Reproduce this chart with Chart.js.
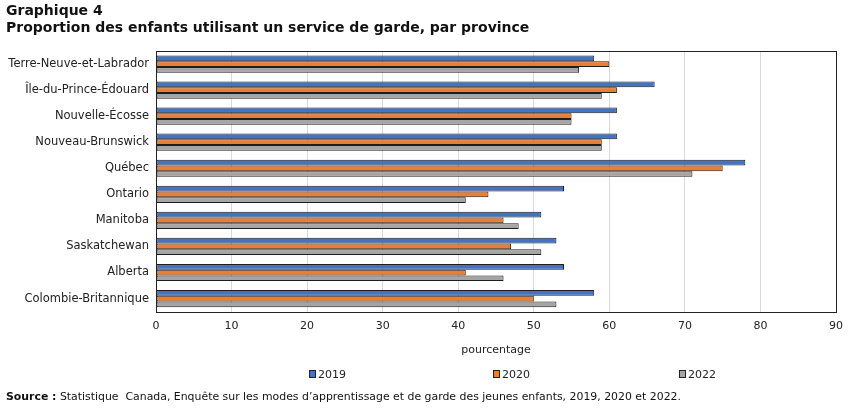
<!DOCTYPE html>
<html><head><meta charset="utf-8">
<script src="https://cdn.jsdelivr.net/npm/chart.js@4.4.1/dist/chart.umd.min.js"></script>
<style>
html,body{margin:0;padding:0;background:#fff;}
#wrap{position:relative;width:851px;height:408px;overflow:hidden;}
#c{position:absolute;left:0;top:0;}
.title{position:absolute;left:6px;font:bold 14px "DejaVu Sans",Verdana,sans-serif;color:#111;white-space:nowrap;}
.leg{position:absolute;top:368px;font:11px "DejaVu Sans",sans-serif;color:#222;white-space:nowrap;line-height:14px;}
.leg i{display:inline-block;width:5px;height:6px;border:1px solid #222;margin-right:2px;vertical-align:-0px;}
#src{position:absolute;left:6px;top:389px;font:10.9px "DejaVu Sans",sans-serif;color:#111;white-space:nowrap;line-height:16px;}
</style></head>
<body><div id="wrap">
<canvas id="c" width="851" height="408"></canvas>
<div class="title" style="top:2px">Graphique 4</div>
<div class="title" style="top:19px">Proportion des enfants utilisant un service de garde, par province</div>
<div id="legend"></div>
<div id="src"><b>Source :</b> Statistique&nbsp; Canada, Enquête sur les modes d’apprentissage et de garde des jeunes enfants, 2019, 2020 et 2022.</div>
</div>
<script>
const provinces = ["Terre-Neuve-et-Labrador","Île-du-Prince-Édouard","Nouvelle-Écosse","Nouveau-Brunswick","Québec","Ontario","Manitoba","Saskatchewan","Alberta","Colombie-Britannique"];
const years = ["2019","2020","2022"];
const values2019 = [58,66,61,61,78,54,51,53,54,58];
const values2020 = [60,61,55,59,75,44,46,47,41,50];
const values2022 = [56,59,55,59,71,41,48,51,46,53];
const colors = ["#4472C4","#ED7D31","#A5A5A5"];
const xTicks = [0,10,20,30,40,50,60,70,80,90];
const legendX = [309,493,679];

const series = [values2019, values2020, values2022];
const datasets = years.map((y,i)=>({
  label:y, data:series[i], backgroundColor:colors[i], borderColor:"#1e1e1e",
  borderWidth:1, borderSkipped:false, categoryPercentage:0.66, barPercentage:1.0
}));

const plotBorder = {
  id:'plotBorder',
  afterDraw(chart){
    const {ctx, chartArea:a} = chart;
    ctx.save(); ctx.strokeStyle='#222'; ctx.lineWidth=1;
    ctx.strokeRect(Math.round(a.left)+0.5, Math.round(a.top)+0.5, Math.round(a.right-a.left), Math.round(a.bottom-a.top));
    ctx.restore();
  }
};

const font = {family:"'DejaVu Sans', Verdana, sans-serif", size:11};
const yfont = {family:"'DejaVu Sans', Verdana, sans-serif", size:11.5};
new Chart(document.getElementById('c'), {
  type:'bar',
  data:{labels:provinces, datasets},
  options:{
    indexAxis:'y', responsive:false, animation:false,
    layout:{padding:{top:51,left:0,right:15,bottom:51}},
    plugins:{legend:{display:false}, title:{display:false}, tooltip:{enabled:false}},
    scales:{
      x:{min:0,max:90,
        afterBuildTicks(s){ s.ticks = xTicks.map(v=>({value:v})); },
        grid:{color:'#d9d9d9', drawTicks:false},
        border:{display:false},
        ticks:{font, color:'#222', padding:8},
        title:{display:true, text:'pourcentage', font, color:'#222', padding:{top:3,bottom:0}}
      },
      y:{
        afterFit(s){ s.width = 156; },
        grid:{display:false, drawTicks:false},
        border:{display:false},
        ticks:{font:yfont, color:'#222', padding:7}
      }
    }
  },
  plugins:[plotBorder]
});

const lg = document.getElementById('legend');
years.forEach((y,i)=>{
  const d=document.createElement('div'); d.className='leg'; d.style.left=legendX[i]+'px';
  d.innerHTML='<i style="background:'+colors[i]+'"></i>'+y; lg.appendChild(d);
});
</script>
</body></html>
